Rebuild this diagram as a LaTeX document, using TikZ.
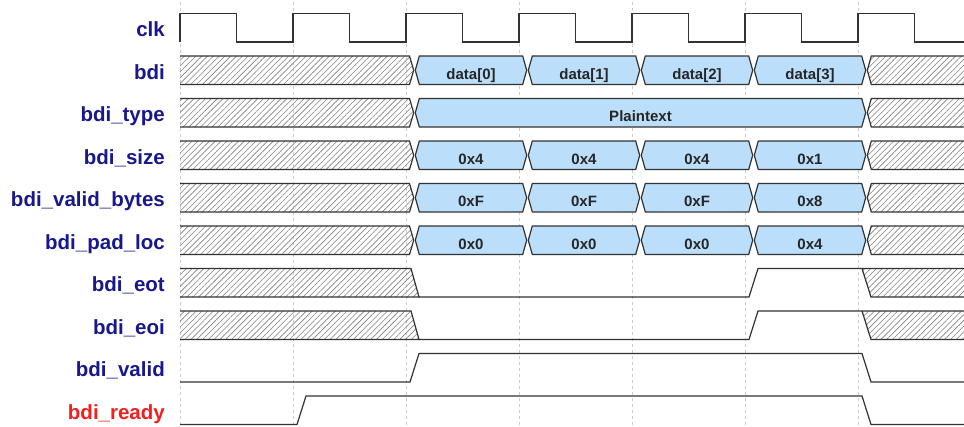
\documentclass[tikz,border=0pt]{standalone}
\usepackage{fontspec}
\setmainfont{Liberation Sans}
\usetikzlibrary{patterns.meta}

\definecolor{busblue}{RGB}{187,222,251}
\definecolor{lblblue}{RGB}{24,24,140}
\definecolor{lblred}{RGB}{240,32,32}
\definecolor{wire}{RGB}{50,50,50}

\tikzset{
  wave/.style={draw=wire, line width=1.2pt, line join=miter},
  bus/.style={wave, fill=busblue},
  hatch/.style={pattern={Lines[angle=45,distance=4.1pt,line width=0.6pt]}, pattern color=gray},
  lbl/.style={anchor=base east, font=\fontsize{20.5}{24}\selectfont\bfseries, text=lblblue, inner sep=0pt},
  val/.style={anchor=base, font=\fontsize{15}{18}\selectfont\bfseries, text=black!85, inner sep=0pt},
  gridline/.style={draw=gray!40, line width=0.8pt, dash pattern=on 3pt off 3pt},
}

% one row of bus values, #1 = top of row, #2 = name, #3 = values
\newcommand{\busrow}[3]{%
  \foreach \v [count=\k from 0] in {#3} {
    \pgfmathsetmacro{\xa}{414.5+113*\k}
    \pgfmathsetmacro{\xb}{\xa+113}
    \draw[bus] (\xa+0.8,#1+14.25) -- (\xa+4.8,#1) -- (\xb-4.8,#1) -- (\xb-0.8,#1+14.25)
      -- (\xb-4.8,#1+28.5) -- (\xa+4.8,#1+28.5) -- cycle;
    \node[val] (#2\k) at ({(\xa+\xb)/2},#1+23) {\v};
  }%
}

\begin{document}
\begin{tikzpicture}[x=1pt, y=-1pt]
    \useasboundingbox (0,0) rectangle (964,426);

    \foreach \x in {180,293,406,519,632,745,858}
      \draw[gridline] (\x,2) -- (\x,426);

    \path
    (165,36.5) node[lbl](clk){clk}
    (165,79) node[lbl](bdi){bdi}
    (165,121.5) node[lbl](type){bdi\_type}
    (165,164) node[lbl](size){bdi\_size}
    (165,206.5) node[lbl](vbytes){bdi\_valid\_bytes}
    (165,249) node[lbl](padloc){bdi\_pad\_loc}
    (165,291.5) node[lbl](eot){bdi\_eot}
    (165,334) node[lbl](eoi){bdi\_eoi}
    (165,376.5) node[lbl](valid){bdi\_valid}
    (165,419) node[lbl, text=lblred](ready){bdi\_ready};

    % clock
    \draw[wave] (180,42) -- (180,13.5) -- (236.5,13.5) -- (236.5,42) -- (293,42)
      -- (293,13.5) -- (349.5,13.5) -- (349.5,42) -- (406,42)
      -- (406,13.5) -- (462.5,13.5) -- (462.5,42) -- (519,42)
      -- (519,13.5) -- (575.5,13.5) -- (575.5,42) -- (632,42)
      -- (632,13.5) -- (688.5,13.5) -- (688.5,42) -- (745,42)
      -- (745,13.5) -- (801.5,13.5) -- (801.5,42) -- (858,42)
      -- (858,13.5) -- (914.5,13.5) -- (914.5,42) -- (964,42);

    % don't care before and after the buses
    \foreach \t in {56,98.5,141,183.5,226} {
      \fill[hatch] (180,\t) -- (409.5,\t) -- (413.7,\t+14.25) -- (409.5,\t+28.5) -- (180,\t+28.5) -- cycle;
      \draw[wave] (180,\t) -- (409.5,\t) -- (413.7,\t+14.25) -- (409.5,\t+28.5) -- (180,\t+28.5);
      \fill[hatch] (964,\t) -- (871.3,\t) -- (867.3,\t+14.25) -- (871.3,\t+28.5) -- (964,\t+28.5) -- cycle;
      \draw[wave] (964,\t) -- (871.3,\t) -- (867.3,\t+14.25) -- (871.3,\t+28.5) -- (964,\t+28.5);
    }

    \busrow{56}{bdiv}{data[0],data[1],data[2],data[3]}
    \draw[bus] (415.3,112.75) -- (419.3,98.5) -- (861.7,98.5) -- (865.7,112.75)
      -- (861.7,127) -- (419.3,127) -- cycle;
    \node[val] (typev) at (640.5,121.5) {Plaintext};
    \busrow{141}{sizev}{0x4,0x4,0x4,0x1}
    \busrow{183.5}{vbytesv}{0xF,0xF,0xF,0x8}
    \busrow{226}{padlocv}{0x0,0x0,0x0,0x4}

    % eot and eoi
    \foreach \t in {268.5,311} {
      \fill[hatch] (180,\t) -- (411,\t) -- (419,\t+28.5) -- (180,\t+28.5) -- cycle;
      \fill[hatch] (862,\t) -- (964,\t) -- (964,\t+28.5) -- (871,\t+28.5) -- cycle;
      \draw[wave] (180,\t) -- (411,\t) -- (419,\t+28.5) -- (180,\t+28.5);
      \draw[wave] (419,\t+28.5) -- (749,\t+28.5) -- (758,\t) -- (964,\t);
      \draw[wave] (862,\t) -- (871,\t+28.5) -- (964,\t+28.5);
    }

    % handshake
    \draw[wave] (180,382) -- (410,382) -- (419,353.5) -- (862,353.5) -- (871,382) -- (964,382);
    \draw[wave] (180,424.5) -- (297,424.5) -- (306,396) -- (862,396) -- (871,424.5) -- (964,424.5);

\end{tikzpicture}
\end{document}
